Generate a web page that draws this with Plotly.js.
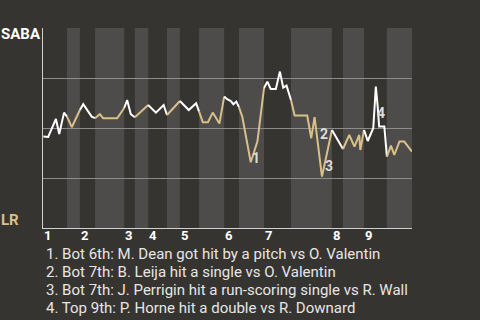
<!DOCTYPE html>
<html>
<head>
<meta charset="utf-8">
<script src="https://cdn.plot.ly/plotly-3.0.1.min.js"></script>
<style>html,body{margin:0;padding:0;background:#363430;}#chart{width:480px;height:320px;}</style>
</head>
<body>
<div id="chart"></div>
<script>
// Game progress (0-100) and SABA win probability per play
const progress = [0.1,1.4,3.5,4.4,5.7,6.5,7.8,10.0,10.9,13.2,14.1,15.4,16.3,20.1,22.0,22.8,23.8,24.9,28.5,30.6,32.7,33.6,37.1,39.5,41.5,42.3,43.3,44.7,46.0,47.8,49.1,49.9,50.9,51.6,52.4,53.1,54.0,56.3,58.1,59.9,60.8,61.7,63.1,64.2,65.1,66.0,67.2,68.2,71.6,72.7,73.6,74.3,75.6,78.3,81.3,83.0,84.4,85.7,86.0,87.0,88.0,89.5,89.8,90.2,90.7,91.1,92.5,93.2,94.3,95.2,96.6,97.9,100];
const winProb = [0.457,0.455,0.545,0.47,0.577,0.557,0.504,0.59,0.619,0.557,0.549,0.569,0.549,0.549,0.6,0.64,0.569,0.554,0.615,0.577,0.615,0.565,0.635,0.59,0.624,0.582,0.529,0.529,0.577,0.522,0.657,0.644,0.635,0.619,0.632,0.604,0.557,0.329,0.432,0.7,0.732,0.695,0.695,0.782,0.702,0.712,0.64,0.562,0.562,0.449,0.554,0.449,0.257,0.49,0.395,0.465,0.407,0.465,0.39,0.49,0.435,0.499,0.607,0.707,0.607,0.507,0.507,0.357,0.412,0.365,0.432,0.432,0.382];
// Half-inning boundaries (start of each half, plus the end)
const halfStarts = [0,6.5,10.0,14.1,22.0,24.9,28.5,33.6,37.1,42.3,49.1,53.1,59.9,67.2,78.3,81.3,87.0,93.2,100];
const inningLabels = ['1','2','3','4','5','6','7','8','9'];
// Key events
const eventNums = ['1','2','3','4'];
const eventX = [57.7,76.2,77.5,91.6];
const eventY = [0.35,0.47,0.31,0.575];
const eventText = [
  '1. Bot 6th: M. Dean got hit by a pitch vs O. Valentin',
  '2. Bot 7th: B. Leija hit a single vs O. Valentin',
  '3. Bot 7th: J. Perrigin hit a run-scoring single vs R. Wall',
  '4. Top 9th: P. Horne hit a double vs R. Downard'
];
const topTeam = 'SABA', bottomTeam = 'LR';

const WHITE = '#ffffff', TAN = '#d9bf8a';
const traces = [];
for (let h = 0; h < halfStarts.length - 1; h++) {
  const a = halfStarts[h], b = halfStarts[h+1];
  const xs = [], ys = [];
  for (let i = 0; i < progress.length; i++) {
    if (progress[i] >= a - 0.01 && progress[i] <= b + 0.01) { xs.push(progress[i]); ys.push(winProb[i]); }
  }
  traces.push({x: xs, y: ys, type: 'scatter', mode: 'lines', hoverinfo: 'skip',
    line: {color: h % 2 === 0 ? WHITE : TAN, width: 2}});
}

const shapes = [];
for (let h = 1; h < halfStarts.length - 1; h += 2) {
  shapes.push({type: 'rect', xref: 'x', yref: 'paper', x0: halfStarts[h], x1: halfStarts[h+1], y0: 0, y1: 1,
    fillcolor: '#4d4c4a', line: {width: 0}, layer: 'below'});
}

const annotations = [];
for (let i = 0; i < inningLabels.length; i++) {
  annotations.push({x: halfStarts[i*2], y: -7.5/200, xref: 'x', yref: 'paper', text: inningLabels[i],
    showarrow: false, xanchor: 'left', yanchor: 'middle', borderpad: 0,
    font: {family: 'Roboto', size: 13, color: '#ffffff', weight: 'bold'}});
}
for (let i = 0; i < eventNums.length; i++) {
  annotations.push({x: eventX[i], y: eventY[i], xref: 'x', yref: 'y', text: eventNums[i], showarrow: false,
    borderpad: 0, font: {family: 'Roboto', size: 14, color: '#dcdcdc', weight: 'bold'}});
}
for (let i = 0; i < eventText.length; i++) {
  annotations.push({x: 2/369, y: -26/200 - i*0.09, xref: 'paper', yref: 'paper', text: eventText[i],
    showarrow: false, xanchor: 'left', yanchor: 'middle', borderpad: 0,
    font: {family: 'Roboto', size: 15, color: '#e6e6e6'}});
}
annotations.push({x: -43/369, y: 0.97, xref: 'paper', yref: 'paper', text: topTeam, showarrow: false,
  xanchor: 'left', yanchor: 'middle', borderpad: 0, font: {family: 'Roboto', size: 15, color: '#ffffff', weight: 'bold'}});
annotations.push({x: -43/369, y: 0.04, xref: 'paper', yref: 'paper', text: bottomTeam, showarrow: false,
  xanchor: 'left', yanchor: 'middle', borderpad: 0, font: {family: 'Roboto', size: 15, color: TAN, weight: 'bold'}});

const layout = {
  width: 480, height: 320,
  margin: {l: 43, r: 68, t: 28, b: 92, pad: 0},
  paper_bgcolor: '#363430', plot_bgcolor: '#363430',
  showlegend: false,
  xaxis: {range: [0, 100], showgrid: false, zeroline: false, showticklabels: false, ticks: '',
    showline: true, linecolor: '#d0d0d0', linewidth: 1, fixedrange: true},
  yaxis: {range: [0, 1], tickvals: [0.25, 0.5, 0.75, 1], showticklabels: false, ticks: '',
    gridcolor: '#8c8c8c', gridwidth: 1, zeroline: false, showline: true, linecolor: '#d0d0d0', linewidth: 1, fixedrange: true},
  shapes: shapes,
  annotations: annotations
};
Plotly.newPlot('chart', traces, layout, {displayModeBar: false, staticPlot: true});
</script>
</body>
</html>
